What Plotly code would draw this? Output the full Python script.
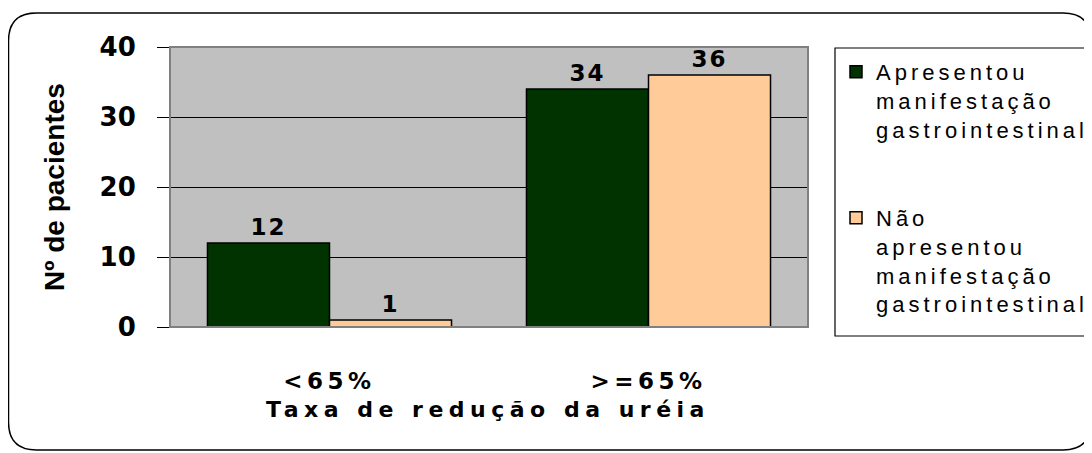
import plotly.graph_objects as go

# ---------------- data ----------------
categories = ["<65%", ">=65%"]
series_names = ["Apresentou manifestação gastrointestinal",
                "Não apresentou manifestação gastrointestinal"]
legend_lines = [["Apresentou", "manifestação", "gastrointestinal"],
                ["Não", "apresentou", "manifestação", "gastrointestinal"]]
with_gi = [12, 34]
without_gi = [1, 36]
y_ticks = [0, 10, 20, 30, 40]
x_title = "Taxa de redução da uréia"
y_title = "Nº de pacientes"

# ---------------- styling ----------------
colors = ["#003300", "#FFCC99"]
W, H = 1092, 453
OFF = 8  # page body margin offset in the browser
L, R, T, B = 170, 808, 47, 327  # plot area in on-screen pixels


def px(x):
    return (x - L) / (R - L)


def py(y):
    return (B - y) / (B - T)


def esc(s):
    return s.replace("&", "&amp;").replace("<", "&lt;").replace(">", "&gt;")


def sp(s, ls):
    return f'<span style="letter-spacing:{ls}px">{esc(s)}</span>'


def legend_name(lines, blank=0):
    parts = [sp(l, 4) for l in lines] + ["&nbsp;"] * blank
    return "<br>".join(parts)


fig = go.Figure()
values = [with_gi, without_gi]
for i in range(2):
    fig.add_trace(go.Bar(
        x=categories,
        y=values[i],
        name=legend_name(legend_lines[i], blank=2 if i == 0 else 0),
        marker=dict(color=colors[i], line=dict(color="black", width=1.5)),
        text=[sp(str(v), 2) for v in values[i]],
        textposition="outside",
        textfont=dict(family="DejaVu Sans", size=23, color="black", weight="bold"),
        cliponaxis=False,
        hoverinfo="skip",
    ))

# outer rounded frame (on-screen pixel geometry converted to paper units)
ol, ot, orr, ob, rad = 8.5, 13, 1091, 450, 28
pts = [
    ("M", (ol + rad, ot)), ("L", (orr - rad, ot)),
    ("Q", (orr, ot), (orr, ot + rad)), ("L", (orr, ob - rad)),
    ("Q", (orr, ob), (orr - rad, ob)), ("L", (ol + rad, ob)),
    ("Q", (ol, ob), (ol, ob - rad)), ("L", (ol, ot + rad)),
    ("Q", (ol, ot), (ol + rad, ot)),
]
path = ""
for cmd, *cs in pts:
    path += cmd + " ".join(f"{px(c[0]):.5f},{py(c[1]):.5f}" for c in cs) + " "
path += "Z"

shapes = [
    dict(type="path", xref="paper", yref="paper", path=path,
         line=dict(color="black", width=1.5), layer="below"),
    dict(type="rect", xref="paper", yref="paper", x0=0, x1=1, y0=0, y1=1,
         line=dict(color="#808080", width=2), layer="above"),
    dict(type="rect", xref="paper", yref="paper",
         x0=px(835), x1=px(1088.5), y0=py(336), y1=py(48),
         line=dict(color="black", width=1.2), layer="above"),
]

annotations = [
    dict(text=sp(x_title, 5.5), xref="paper", yref="paper",
         x=px(488), y=py(409), xanchor="center", yanchor="middle",
         showarrow=False,
         font=dict(family="DejaVu Sans", size=22, color="black", weight="bold")),
    dict(text=esc(y_title), xref="paper", yref="paper",
         x=px(54), y=py(187), xanchor="center", yanchor="middle",
         textangle=-90, showarrow=False,
         font=dict(family="Liberation Sans, Arial", size=28, color="black",
                   weight="bold")),
]

fig.update_layout(
    width=W, height=H,
    margin=dict(l=L - OFF, r=W - (R - OFF), t=T - OFF, b=H - (B - OFF),
                autoexpand=False),
    paper_bgcolor="white",
    plot_bgcolor="#C0C0C0",
    barmode="group", bargap=0.235, bargroupgap=0,
    showlegend=True,
    legend=dict(x=px(836), y=py(51), xanchor="left", yanchor="top",
                bgcolor="rgba(0,0,0,0)", borderwidth=0, valign="top",
                traceorder="normal",
                font=dict(family="Liberation Sans, Arial", size=22, color="black")),
    font=dict(family="Liberation Sans, Arial", color="black"),
    shapes=shapes,
    annotations=annotations,
    xaxis=dict(
        tickvals=categories,
        ticktext=[sp(c, 4.5) for c in categories],
        tickfont=dict(family="DejaVu Sans", size=23, color="black", weight="bold"),
        ticks="", showgrid=False, zeroline=False, showline=False,
        ticklabelstandoff=38,
    ),
    yaxis=dict(
        range=[0, 40], tickvals=y_ticks,
        tickfont=dict(family="DejaVu Sans", size=26, color="black", weight="bold"),
        showgrid=True, gridcolor="black", gridwidth=1,
        ticks="outside", ticklen=12, tickcolor="black", tickwidth=1,
        ticklabelstandoff=16, zeroline=False, showline=False,
    ),
)

fig.write_html("out.html")
